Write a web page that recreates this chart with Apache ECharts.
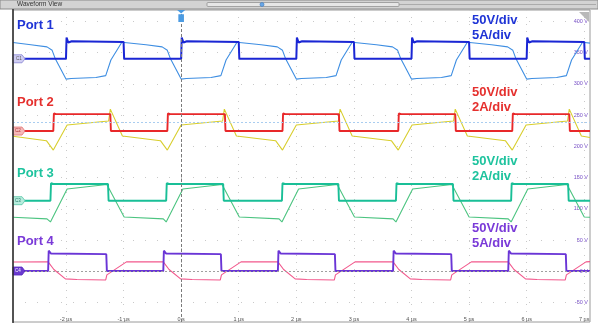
<!DOCTYPE html>
<html><head><meta charset="utf-8">
<script src="https://cdn.jsdelivr.net/npm/echarts@6/dist/echarts.min.js"></script>
<style>html,body{margin:0;padding:0;background:#fff}#c{width:598px;height:326px}</style>
</head><body><div id="c"></div>
<script>
// Axis ticks (time in µs, vertical scale in V as shown on the right)
const xTicks = [-2, -1, 0, 1, 2, 3, 4, 5, 6, 7];
const yTicks = [-50, 0, 50, 100, 150, 200, 250, 300, 350, 400];

// Port 1
const p1Dark = [[-2.92,340],[-2.0,340],[-1.99,374],[-1.96,366],[-1.9,368],[-1.0,367],[-0.99,340],[0,340],[0.01,374],[0.04,366],[0.1,368],[1.0,367],[1.01,340],[2.0,340],[2.01,374],[2.04,366],[2.1,368],[3.0,367],[3.01,340],[4.0,340],[4.01,374],[4.04,366],[4.1,368],[5.0,367],[5.01,340],[6.0,340],[6.01,374],[6.04,366],[6.1,368],[7.0,367],[7.01,340],[7.1,340]];
const p1Light = [[-2.92,366],[-2.61,362.5],[-2.33,359],[-2.24,353.5],[-2.19,341],[-2.0,307.5],[-1.91,308.5],[-1.48,310],[-1.31,313],[-1.22,338],[-1.03,366.5],[-0.61,362.5],[-0.33,359],[-0.24,353.5],[-0.19,341],[0,307.5],[0.09,308.5],[0.52,310],[0.69,313],[0.78,338],[0.97,366.5],[1.39,362.5],[1.67,359],[1.76,353.5],[1.81,341],[2.0,307.5],[2.09,308.5],[2.52,310],[2.69,313],[2.78,338],[2.97,366.5],[3.39,362.5],[3.67,359],[3.76,353.5],[3.81,341],[4.0,307.5],[4.09,308.5],[4.52,310],[4.69,313],[4.78,338],[4.97,366.5],[5.39,362.5],[5.67,359],[5.76,353.5],[5.81,341],[6.0,307.5],[6.09,308.5],[6.52,310],[6.69,313],[6.78,338],[6.97,366.5],[7.1,365]];

// Port 2
const p2Dark = [[-2.92,224.4],[-2.22,224.4],[-2.21,252.5],[-2.17,251.5],[-1.23,251.5],[-1.22,224.4],[-0.24,224.4],[-0.23,252.5],[-0.19,251.5],[0.76,251.5],[0.77,224.4],[1.76,224.4],[1.77,252.5],[1.81,251.5],[2.74,251.5],[2.75,224.4],[3.77,224.4],[3.78,252.5],[3.82,251.5],[4.76,251.5],[4.77,224.4],[5.75,224.4],[5.76,252.5],[5.8,251.5],[6.74,251.5],[6.75,224.4],[7.1,224.4]];
const p2Light = [[-2.92,216],[-2.34,209],[-2.22,194],[-1.98,234],[-1.26,240.4],[-1.23,259.5],[-1.02,216.4],[-0.36,209],[-0.24,194],[0.0,234],[0.72,240.4],[0.75,259.5],[0.96,216.4],[1.64,209],[1.76,194],[2.0,234],[2.73,240.4],[2.76,259.5],[2.97,216.4],[3.65,209],[3.77,194],[4.01,234],[4.73,240.4],[4.76,259.5],[4.97,216.4],[5.63,209],[5.75,194],[5.99,234],[6.71,240.4],[6.74,259.5],[6.95,216.4],[7.1,214]];

// Port 3
const p3Dark = [[-2.92,113],[-2.27,113],[-2.26,141],[-2.22,139.7],[-1.27,139.7],[-1.26,113],[-0.26,113],[-0.25,141],[-0.21,139.7],[0.73,139.7],[0.74,113],[1.75,113],[1.76,141],[1.8,139.7],[2.73,139.7],[2.74,113],[3.73,113],[3.74,141],[3.78,139.7],[4.72,139.7],[4.73,113],[5.73,113],[5.74,141],[5.78,139.7],[6.72,139.7],[6.73,113],[7.1,113]];
const p3Light = [[-2.92,86.5],[-2.33,84],[-2.27,79],[-1.98,131.8],[-1.29,139],[-1.27,138],[-0.99,87],[-0.31,84],[-0.26,79],[0.03,131.8],[0.71,139],[0.73,138],[1.01,87],[1.7,84],[1.75,79],[2.04,131.8],[2.71,139],[2.73,138],[3.01,87],[3.68,84],[3.73,79],[4.02,131.8],[4.7,139],[4.72,138],[5.0,87],[5.68,84],[5.73,79],[6.02,131.8],[6.7,139],[6.72,138],[7.0,87],[7.1,86.5]];

// Port 4
const p4Dark = [[-2.92,0.5],[-2.31,0.5],[-2.30,33],[-2.26,28.5],[-1.30,27.5],[-1.29,0.5],[-0.31,0.5],[-0.30,33],[-0.26,28.5],[0.69,27.5],[0.70,0.5],[1.68,0.5],[1.69,33],[1.73,28.5],[2.67,27.5],[2.68,0.5],[3.68,0.5],[3.69,33],[3.73,28.5],[4.69,27.5],[4.70,0.5],[5.68,0.5],[5.69,33],[5.73,28.5],[6.68,27.5],[6.69,0.5],[7.1,0.5]];
const p4Light = [[-2.92,15],[-2.31,15.2],[-2.21,3],[-2.01,-12],[-1.81,-13],[-1.31,-13.8],[-1.29,-5.6],[-0.95,15.2],[-0.31,15.2],[-0.21,3],[-0.01,-12],[0.19,-13],[0.68,-13.8],[0.70,-5.6],[1.04,15.2],[1.68,15.2],[1.78,3],[1.98,-12],[2.18,-13],[2.66,-13.8],[2.68,-5.6],[3.02,15.2],[3.68,15.2],[3.78,3],[3.98,-12],[4.18,-13],[4.68,-13.8],[4.70,-5.6],[5.04,15.2],[5.68,15.2],[5.78,3],[5.98,-12],[6.18,-13],[6.67,-13.8],[6.69,-5.6],[7.03,15.2],[7.1,15.5]];

// Channel reference levels (marker tags) and cursor levels
const chLevels = [340, 224.4, 113, 0.5];
const chNames = ['C1', 'C2', 'C3', 'C4'];
const cursorLevel = 238.8;
const triggerTime = 0;

const ports = ['Port 1', 'Port 2', 'Port 3', 'Port 4'];
const scaleV = ['50V/div', '50V/div', '50V/div', '50V/div'];
const scaleA = ['5A/div', '2A/div', '2A/div', '5A/div'];

const XMIN = -2.92, XMAX = 7.1, YMIN = -81, YMAX = 418;
const tagPath = 'path://M0,0 L9,0 L12,4 L9,8 L0,8 Z';

function tag(i, fill, stroke, txt) {
  return {
    symbol: tagPath, symbolSize: [12, 8], symbolOffset: [6, 0],
    itemStyle: { color: fill, borderColor: stroke, borderWidth: 0.8 },
    label: { show: true, formatter: chNames[i], fontSize: 4.5, color: txt, offset: [-1, 0] },
    data: [{ coord: [XMIN, chLevels[i]] }], silent: true, animation: false
  };
}

function line(data, color, width, z, extra) {
  return Object.assign({
    type: 'line', data: data, showSymbol: false, symbol: 'none',
    lineStyle: { color: color, width: width }, itemStyle: { color: color },
    z: z, animation: false, silent: true
  }, extra || {});
}

const chart = echarts.init(document.getElementById('c'), null, { renderer: 'canvas' });
chart.setOption({
  backgroundColor: '#ffffff',
  animation: false,
  grid: { left: 13, right: 8, top: 10, bottom: 4, show: true, borderColor: '#9a9a9a', borderWidth: 1 },
  xAxis: {
    type: 'value', min: XMIN, max: XMAX,
    axisLine: { show: false },
    axisTick: { show: false, customValues: xTicks },
    axisLabel: {
      inside: true, margin: 0, fontSize: 5.5, color: '#555', fontFamily: 'Liberation Sans',
      customValues: xTicks,
      formatter: v => (v === 0 ? '0 s' : v + ' µs')
    },
    splitLine: { show: true, lineStyle: { color: '#c9c9c9', type: [1, 6], width: 1 } }
  },
  yAxis: {
    type: 'value', min: YMIN, max: YMAX, position: 'right',
    axisLine: { show: false },
    axisTick: { show: false, customValues: yTicks },
    axisLabel: {
      inside: true, margin: 2, fontSize: 5.5, color: '#7a52c8', fontFamily: 'Liberation Sans',
      customValues: yTicks,
      formatter: v => v + ' V'
    },
    splitLine: { show: true, lineStyle: { color: '#c9c9c9', type: [1, 11], width: 1 } }
  },
  series: [
    line(p1Light, '#3e8ee2', 1.1, 2, {
      markLine: {
        silent: true, symbol: ['none', 'none'], label: { show: false }, animation: false,
        lineStyle: { color: '#7a7a7a', type: [3, 2], width: 1 },
        data: [{ xAxis: triggerTime }]
      }
    }),
    line(p2Light, '#d8ce2e', 1.1, 2, {
      markLine: {
        silent: true, symbol: ['none', 'none'], label: { show: false }, animation: false,
        lineStyle: { color: '#a9cdf0', type: [2, 2], width: 1 },
        data: [{ yAxis: cursorLevel }]
      }
    }),
    line(p3Light, '#4cc480', 1.1, 2),
    line(p4Light, '#f2588c', 1.1, 2, {
      markLine: {
        silent: true, symbol: ['none', 'none'], label: { show: false }, animation: false,
        lineStyle: { color: '#a0a0a0', type: [2, 2], width: 1 },
        data: [{ yAxis: 0 }]
      }
    }),
    line(p1Dark, '#1a26d4', 2, 3, {
      markPoint: {
        silent: true, animation: false,
        data: [
          { coord: [XMIN, chLevels[0]], symbol: tagPath, symbolSize: [12, 8], symbolOffset: [6, 0],
            itemStyle: { color: '#cfcdf2', borderColor: '#8c88d4', borderWidth: 0.8 },
            label: { show: true, formatter: 'C1', fontSize: 4.5, color: '#555' } },
          { coord: [triggerTime, YMAX], symbol: 'path://M0,0 L10,0 L5,4 Z M1.5,5 L8.5,5 L8.5,14 L1.5,14 Z',
            symbolSize: [8, 12], symbolOffset: [0, 6],
            itemStyle: { color: '#4b9be2' }, label: { show: false } }
        ]
      }
    }),
    line(p2Dark, '#e8282a', 1.9, 3, { markPoint: tag(1, '#f6b8b8', '#e07474', '#a33') }),
    line(p3Dark, '#19bf97', 1.9, 3, { markPoint: tag(2, '#b6ecdd', '#5cc8a8', '#276') }),
    line(p4Dark, '#6a35d6', 1.9, 3, { markPoint: tag(3, '#6a3ad0', '#5a2ac0', '#fff') })
  ],
  graphic: [
    { type: 'rect', shape: { x: 0, y: 0, width: 598, height: 9 }, style: { fill: '#d3d3d3', stroke: '#8a8a8a', lineWidth: 1 }, silent: true, z: 10 },
    { type: 'text', x: 17, y: 4.5, style: { text: 'Waveform View', fontSize: 6.5, fill: '#333', verticalAlign: 'middle', fontFamily: 'Liberation Sans' }, z: 11 },
    { type: 'rect', shape: { x: 207, y: 2.5, width: 192, height: 4, r: 1 }, style: { fill: '#e6e6e6', stroke: '#888', lineWidth: 0.7 }, z: 11 },
    { type: 'line', shape: { x1: 399, y1: 4.5, x2: 596, y2: 4.5 }, style: { stroke: '#999', lineWidth: 0.7 }, z: 11 },
    { type: 'circle', shape: { cx: 262, cy: 4.5, r: 2 }, style: { fill: '#6aa8e8', stroke: '#3a78c0', lineWidth: 0.6 }, z: 12 },
    { type: 'line', shape: { x1: 13, y1: 9, x2: 13, y2: 323 }, style: { stroke: '#2a2a2a', lineWidth: 1.5 }, z: 10 },
    { type: 'polygon', shape: { points: [[579, 12], [589, 12], [589, 22]] }, style: { fill: '#b9b9b9' }, z: 10 },
    { type: 'text', x: 17, y: 25, style: { text: ports[0], fontSize: 13, fontWeight: 'bold', fill: '#1f34d6', verticalAlign: 'middle', fontFamily: 'Liberation Sans' }, z: 12 },
    { type: 'text', x: 17, y: 102, style: { text: ports[1], fontSize: 13, fontWeight: 'bold', fill: '#e5302e', verticalAlign: 'middle', fontFamily: 'Liberation Sans' }, z: 12 },
    { type: 'text', x: 17, y: 173, style: { text: ports[2], fontSize: 13, fontWeight: 'bold', fill: '#1ec39e', verticalAlign: 'middle', fontFamily: 'Liberation Sans' }, z: 12 },
    { type: 'text', x: 17, y: 241, style: { text: ports[3], fontSize: 13, fontWeight: 'bold', fill: '#7a3ad8', verticalAlign: 'middle', fontFamily: 'Liberation Sans' }, z: 12 },
    { type: 'text', x: 472, y: 20, style: { text: scaleV[0], fontSize: 13, fontWeight: 'bold', fill: '#1f34d6', verticalAlign: 'middle', fontFamily: 'Liberation Sans' }, z: 12 },
    { type: 'text', x: 472, y: 35, style: { text: scaleA[0], fontSize: 13, fontWeight: 'bold', fill: '#1f34d6', verticalAlign: 'middle', fontFamily: 'Liberation Sans' }, z: 12 },
    { type: 'text', x: 472, y: 92, style: { text: scaleV[1], fontSize: 13, fontWeight: 'bold', fill: '#e5302e', verticalAlign: 'middle', fontFamily: 'Liberation Sans' }, z: 12 },
    { type: 'text', x: 472, y: 107, style: { text: scaleA[1], fontSize: 13, fontWeight: 'bold', fill: '#e5302e', verticalAlign: 'middle', fontFamily: 'Liberation Sans' }, z: 12 },
    { type: 'text', x: 472, y: 161, style: { text: scaleV[2], fontSize: 13, fontWeight: 'bold', fill: '#1ec39e', verticalAlign: 'middle', fontFamily: 'Liberation Sans' }, z: 12 },
    { type: 'text', x: 472, y: 176, style: { text: scaleA[2], fontSize: 13, fontWeight: 'bold', fill: '#1ec39e', verticalAlign: 'middle', fontFamily: 'Liberation Sans' }, z: 12 },
    { type: 'text', x: 472, y: 228, style: { text: scaleV[3], fontSize: 13, fontWeight: 'bold', fill: '#7a3ad8', verticalAlign: 'middle', fontFamily: 'Liberation Sans' }, z: 12 },
    { type: 'text', x: 472, y: 243, style: { text: scaleA[3], fontSize: 13, fontWeight: 'bold', fill: '#7a3ad8', verticalAlign: 'middle', fontFamily: 'Liberation Sans' }, z: 12 }
  ]
});
</script>
</body></html>
